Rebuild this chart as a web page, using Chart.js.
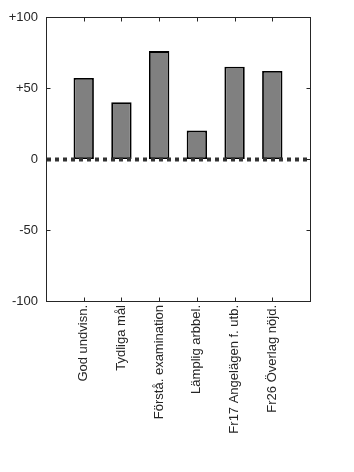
<!DOCTYPE html>
<html>
<head>
<meta charset="utf-8">
<script src="https://cdn.jsdelivr.net/npm/chart.js@4"></script>
<style>
  body { margin: 0; background: #fff; }
  canvas { display: block; }
</style>
</head>
<body>
<canvas id="barChart" width="354" height="472"></canvas>
<script>
// data
var categories = ['God undvisn.', 'Tydliga mål', 'Förstå. examination', 'Lämplig arbbel.', 'Fr17 Angelägen f. utb.', 'Fr26 Överlag nöjd.'];
var values = [57, 40, 76, 20, 65, 62];
var yTicks = [-100, -50, 0, 50, 100];

var font = { family: '"Liberation Sans", Arial, sans-serif', size: 13 };
var ink = '#262626';

// bars sit at x = 1..n on a linear axis running 0..n+1
var points = values.map(function (v, i) {
    return { x: i + 1, y: v };
});

// box, inward ticks and the dotted zero line
var framePlugin = {
    id: 'frame',
    afterDatasetsDraw: function (chart) {
        var ctx = chart.ctx;
        var a = chart.chartArea;
        var xs = chart.scales.x;
        var ys = chart.scales.y;
        var tl = 4;

        ctx.save();
        // zero line
        var y0 = Math.round(ys.getPixelForValue(0)) + 0.5;
        ctx.strokeStyle = '#333';
        ctx.lineWidth = 4;
        ctx.setLineDash([4, 4]);
        ctx.beginPath();
        ctx.moveTo(a.left + 1, y0);
        ctx.lineTo(a.right - 2, y0);
        ctx.stroke();
        ctx.setLineDash([]);

        ctx.strokeStyle = ink;
        ctx.lineWidth = 1;
        var l = Math.round(a.left) + 0.5, r = Math.round(a.right) + 0.5;
        var t = Math.round(a.top) + 0.5, b = Math.round(a.bottom) + 0.5;
        ctx.strokeRect(l, t, r - l, b - t);

        ctx.beginPath();
        for (var i = 1; i <= categories.length; i++) {
            var px = Math.round(xs.getPixelForValue(i)) + 0.5;
            ctx.moveTo(px, t); ctx.lineTo(px, t + tl);
            ctx.moveTo(px, b); ctx.lineTo(px, b - tl);
        }
        yTicks.forEach(function (v) {
            var py = Math.round(ys.getPixelForValue(v)) + 0.5;
            ctx.moveTo(l, py); ctx.lineTo(l + tl, py);
            ctx.moveTo(r, py); ctx.lineTo(r - tl, py);
        });
        ctx.stroke();
        ctx.restore();
    }
};

var ctx = document.getElementById('barChart').getContext('2d');
var myChart = new Chart(ctx, {
    type: 'bar',
    data: {
        datasets: [{
            data: points,
            backgroundColor: '#808080',
            borderColor: '#000',
            borderWidth: 1.8,
            borderSkipped: false,
            barPercentage: 0.54,
            categoryPercentage: 1
        }]
    },
    options: {
        responsive: false,
        animation: false,
        layout: { padding: { top: 17, right: 44, left: 0, bottom: 0 } },
        plugins: { legend: { display: false }, tooltip: { enabled: false } },
        scales: {
            x: {
                type: 'linear',
                offset: false,
                min: 0,
                max: categories.length + 1,
                border: { display: false },
                grid: { display: false, drawTicks: false },
                afterBuildTicks: function (scale) {
                    var t = [];
                    for (var i = 0; i <= categories.length + 1; i++) t.push({ value: i });
                    scale.ticks = t;
                },
                afterFit: function (scale) { scale.height = 171; },
                ticks: {
                    autoSkip: false,
                    minRotation: 90,
                    maxRotation: 90,
                    padding: 4,
                    color: ink,
                    font: font,
                    callback: function (v) { return categories[v - 1] || ''; }
                }
            },
            y: {
                min: -100,
                max: 100,
                border: { display: false },
                grid: { display: false, drawTicks: false },
                afterBuildTicks: function (scale) {
                    scale.ticks = yTicks.map(function (v) { return { value: v }; });
                },
                afterFit: function (scale) { scale.width = 46; },
                ticks: {
                    padding: 8,
                    color: ink,
                    font: font,
                    callback: function (v) { return v > 0 ? '+' + v : String(v); }
                }
            }
        }
    },
    plugins: [framePlugin]
});
</script>
</body>
</html>
